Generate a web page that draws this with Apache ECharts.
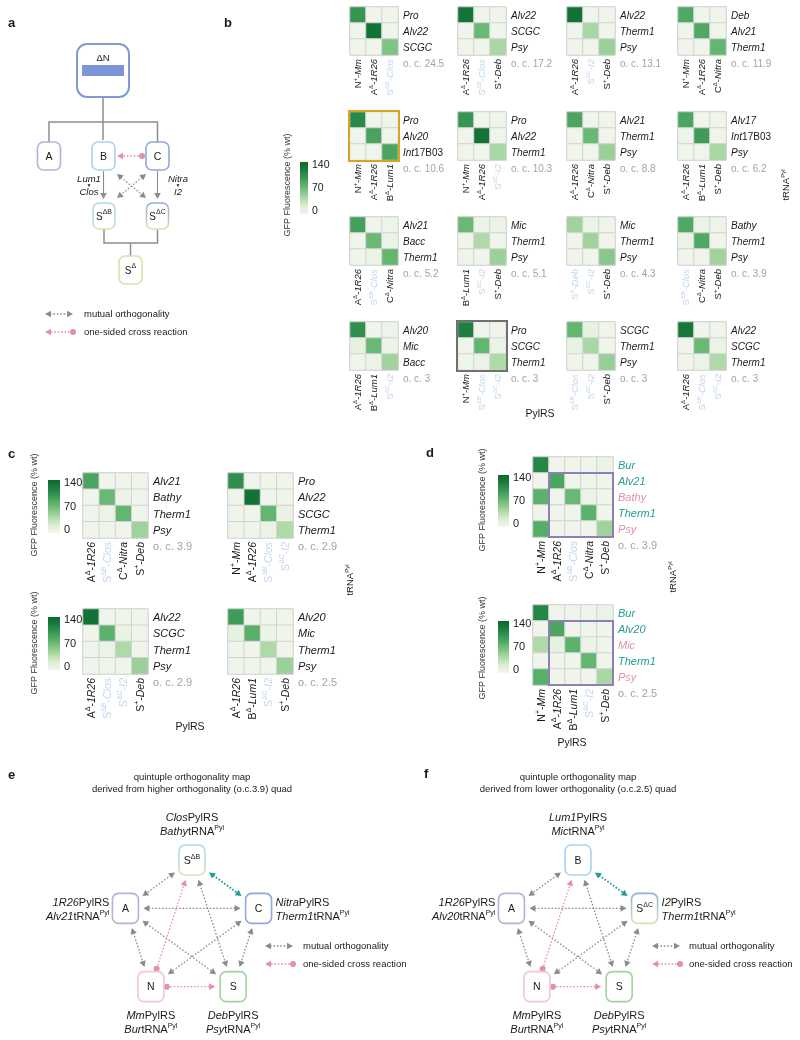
<!DOCTYPE html>
<html><head><meta charset="utf-8">
<script src="https://cdn.jsdelivr.net/npm/echarts@6/dist/echarts.min.js"></script>
<style>html,body{margin:0;padding:0;background:#fff}#c{width:800px;height:1040px}</style>
</head><body><div id="c"></div>
<script>
// ---------------- DATA ----------------
const bRows = [
 ['Pro','Alv22','SCGC'], ['Alv22','SCGC','Psy'], ['Alv22','Therm1','Psy'], ['Deb','Alv21','Therm1'],
 ['Pro','Alv20','Int17B03'], ['Pro','Alv22','Therm1'], ['Alv21','Therm1','Psy'], ['Alv17','Int17B03','Psy'],
 ['Alv21','Bacc','Therm1'], ['Mic','Therm1','Psy'], ['Mic','Therm1','Psy'], ['Bathy','Therm1','Psy'],
 ['Alv20','Mic','Bacc'], ['Pro','SCGC','Therm1'], ['SCGC','Therm1','Psy'], ['Alv22','SCGC','Therm1']
];
const bCols = [
 ['N+-Mm','AΔ-1R26','SΔB-Clos'], ['AΔ-1R26','SΔB-Clos','S+-Deb'], ['AΔ-1R26','SΔC-I2','S+-Deb'], ['N+-Mm','AΔ-1R26','CΔ-Nitra'],
 ['N+-Mm','AΔ-1R26','BΔ-Lum1'], ['N+-Mm','AΔ-1R26','SΔC-I2'], ['AΔ-1R26','CΔ-Nitra','S+-Deb'], ['AΔ-1R26','BΔ-Lum1','S+-Deb'],
 ['AΔ-1R26','SΔB-Clos','CΔ-Nitra'], ['BΔ-Lum1','SΔC-I2','S+-Deb'], ['SΔ-Deb','SΔC-I2','S+-Deb'], ['SΔB-Clos','CΔ-Nitra','S+-Deb'],
 ['AΔ-1R26','BΔ-Lum1','SΔC-I2'], ['N+-Mm','SΔB-Clos','SΔC-I2'], ['SΔB-Clos','SΔC-I2','S+-Deb'], ['AΔ-1R26','SΔB-Clos','SΔC-I2']
];
const bVals = [
 [[100,3,3],[3,130,3],[3,3,62]],
 [[128,3,3],[3,72,3],[3,3,45]],
 [[130,3,3],[3,45,3],[3,3,50]],
 [[85,3,3],[3,85,3],[3,3,75]],
 [[110,3,3],[3,90,3],[3,3,88]],
 [[100,3,3],[3,130,3],[3,3,45]],
 [[88,3,3],[3,72,3],[3,3,50]],
 [[88,3,3],[5,95,3],[3,3,45]],
 [[92,3,5],[3,72,8],[3,8,75]],
 [[72,6,8],[3,42,3],[5,3,50]],
 [[48,8,5],[3,48,3],[3,3,58]],
 [[85,8,5],[8,85,3],[3,3,48]],
 [[105,3,5],[12,72,6],[3,6,48]],
 [[118,3,3],[3,75,8],[5,8,42]],
 [[75,12,3],[10,45,3],[3,3,52]],
 [[125,3,3],[3,72,8],[3,8,42]]
];
const bOC = ['24.5','17.2','13.1','11.9','10.6','10.3','8.8','6.2','5.2','5.1','4.3','3.9','3','3','3','3'];

const cRows = [['Alv21','Bathy','Therm1','Psy'], ['Pro','Alv22','SCGC','Therm1'], ['Alv22','SCGC','Therm1','Psy'], ['Alv20','Mic','Therm1','Psy']];
const cCols = [['AΔ-1R26','SΔB-Clos','CΔ-Nitra','S+-Deb'], ['N+-Mm','AΔ-1R26','SΔB-Clos','SΔC-I2'], ['AΔ-1R26','SΔB-Clos','SΔC-I2','S+-Deb'], ['AΔ-1R26','BΔ-Lum1','SΔC-I2','S+-Deb']];
const cVals = [
 [[88,3,3,3],[3,72,8,3],[3,8,75,3],[3,3,3,48]],
 [[105,3,3,3],[3,130,3,3],[3,3,75,10],[3,3,8,42]],
 [[130,3,3,3],[3,78,10,3],[3,8,42,3],[3,3,3,50]],
 [[95,3,3,3],[12,80,6,3],[3,3,42,3],[3,3,3,50]]
];
const cOC = ['3.9','2.9','2.9','2.5'];

const dRows = [['Bur','Alv21','Bathy','Therm1','Psy'], ['Bur','Alv20','Mic','Therm1','Psy']];
const dRowType = [['t','t','p','t','p'], ['t','t','p','t','p']];
const dCols = [['N+-Mm','AΔ-1R26','SΔB-Clos','CΔ-Nitra','S+-Deb'], ['N+-Mm','AΔ-1R26','BΔ-Lum1','SΔC-I2','S+-Deb']];
const dVals = [
 [[112,3,3,3,8],[3,88,3,3,3],[78,3,72,8,3],[3,3,3,78,3],[82,3,3,3,48]],
 [[112,3,3,3,8],[3,88,3,3,3],[42,12,78,6,3],[3,3,3,75,3],[80,3,3,3,45]]
];
const dOC = ['3.9','2.5'];

const colorTicks = ['140','70','0'];
const eNodes = ['SΔB','A','C','N','S'];
const eLabels = [['Clos','Bathy'],['1R26','Alv21'],['Nitra','Therm1'],['Mm','Bur'],['Deb','Psy']];
const fNodes = ['B','A','SΔC','N','S'];
const fLabels = [['Lum1','Mic'],['1R26','Alv20'],['I2','Therm1'],['Mm','Bur'],['Deb','Psy']];
const pairType = ['p','t','t','t','p'];
// edges: [from, to, kind]  (0 top,1 left,2 right,3 bottom-left,4 bottom-right)
const pentEdges = [[0,1,'g'],[0,2,'teal'],[1,2,'g'],[1,3,'g'],[2,4,'g'],[1,4,'g'],[2,3,'g'],[0,4,'g'],[3,0,'pink'],[3,4,'pink']];

// ---------------- STYLE ----------------
const FONT = '"Liberation Sans", Arial, Helvetica, sans-serif';
const PAL = ['#f3f6f0','#dcefd6','#b3dcab','#83c686','#58b068','#379553','#1b7c3d','#0a6a2e'];
const BLUE_LBL = '#c3d5ee', TEAL = '#1f9d96', PINK = '#e38fae', GREY = '#8c8c8c', OCC = '#a3a3a3';
const COLORS = {k:'#1a1a1a', b:BLUE_LBL, t:TEAL, p:PINK};

function richSet(fs, color){
  return {
    n:{fontSize:fs, color, fontFamily:FONT, lineHeight:fs+2, verticalAlign:'bottom'},
    i:{fontSize:fs, color, fontFamily:FONT, fontStyle:'italic', lineHeight:fs+2, verticalAlign:'bottom'},
    s:{fontSize:Math.round(fs*0.65), color, fontFamily:FONT, lineHeight:Math.round(fs*0.65), padding:[0,0,Math.round(fs*0.55),0], verticalAlign:'bottom'}
  };
}
function richAll(fs){
  const o = {};
  for (const c in COLORS){ const s = richSet(fs, COLORS[c]); for (const k in s) o[k+c] = s[k]; }
  return o;
}
function colLabel(s){
  const m = s.match(/^([A-Z])([^-]*)-(.*)$/);
  const c = (m[1]==='S' && m[2].startsWith('Δ')) ? 'b' : 'k';
  return `{n${c}|${m[1]}}{s${c}|${m[2]}}{n${c}|-}{i${c}|${m[3]}}`;
}
function rowLabel(v, c){
  if (v.startsWith('Int')) return `{i${c}|Int}{n${c}|${v.slice(3)}}`;
  return `{i${c}|${v}}`;
}

const grids=[], xAxes=[], yAxes=[], series=[], gfx=[];
function txt(x,y,text,o={}){
  const el = {type:'text', x, y, z:50, rotation:o.rot||0, style:{text, fill:o.color||'#1a1a1a', fontSize:o.fs||10, fontFamily:FONT,
    fontWeight:o.bold?'bold':'normal', fontStyle:o.italic?'italic':'normal',
    textAlign:o.align||'left', align:o.align||'left', textVerticalAlign:'middle', verticalAlign:'middle'}};
  if (o.rich) el.style.rich = o.rich;
  gfx.push(el);
}

function addHeat(x, y, cell, rows, cols, vals, rowTypes, fsCol, fsRow, oc){
  const gi = grids.length;
  grids.push({left:x, top:y, width:cell*cols.length, height:cell*rows.length, show:true,
    borderColor:'#c9c9c9', borderWidth:1, backgroundColor:'rgba(0,0,0,0)'});
  xAxes.push({type:'category', gridIndex:gi, data:cols, position:'bottom',
    axisLine:{show:false}, axisTick:{show:false}, splitLine:{show:false}, splitArea:{show:false},
    axisLabel:{interval:0, rotate:90, margin:4, formatter:colLabel, rich:richAll(fsCol)}});
  yAxes.push({type:'category', gridIndex:gi, data:rows, inverse:true, position:'right',
    axisLine:{show:false}, axisTick:{show:false}, splitLine:{show:false}, splitArea:{show:false},
    axisLabel:{interval:0, margin:5, formatter:(v,i)=>rowLabel(v, rowTypes ? rowTypes[i] : 'k'), rich:richAll(fsRow)}});
  const data=[];
  vals.forEach((r,ri)=>r.forEach((v,ci)=>data.push([ci,ri,v])));
  series.push({type:'heatmap', xAxisIndex:gi, yAxisIndex:gi, data, silent:true,
    itemStyle:{borderColor:'#d3d3d3', borderWidth:1}, emphasis:{disabled:true}, label:{show:false}});
  txt(x+cell*cols.length+5, y+cell*rows.length+9, 'o. c. '+oc, {color:OCC, fs:fsRow});
  return {x, y, w:cell*cols.length, h:cell*rows.length, cell};
}

function colorbar(x,y,w,h,fs, titleX, titleCY){
  const stops = PAL.map((c,i)=>({offset:i/(PAL.length-1), color:PAL[PAL.length-1-i]}));
  gfx.push({type:'rect', z:50, shape:{x,y,width:w,height:h}, style:{fill:{type:'linear',x:0,y:0,x2:0,y2:1,colorStops:stops}, stroke:null}});
  colorTicks.forEach((t,i)=>txt(x+w+4, y+3+i*(h-6)/2, t, {fs}));
  txt(titleX, titleCY, 'GFP Fluorescence (% wt)', {fs:9, align:'center', rot:Math.PI/2, color:'#333'});
}
function frame(g, color, lw, x0, y0, x1, y1){
  gfx.push({type:'rect', z:60, shape:{x:x0, y:y0, width:x1-x0, height:y1-y0}, style:{fill:null, stroke:color, lineWidth:lw}});
}
const supRich = (fs,color)=>{ const s = richSet(fs,color); return {n:s.n, i:s.i, s:s.s}; };

// ---------------- PANEL B ----------------
const B_X = [350, 458, 567, 678], B_Y = [7, 112, 217, 322], B_CELL = 16;
const bBoxes = bRows.map((rows,k)=>addHeat(B_X[k%4], B_Y[Math.floor(k/4)], B_CELL, rows, bCols[k], bVals[k], null, 9.5, 10, bOC[k]));
frame(null, '#d9a323', 2, bBoxes[4].x-1, bBoxes[4].y-1, bBoxes[4].x+bBoxes[4].w+1, bBoxes[4].y+bBoxes[4].h+1);
frame(null, '#707070', 2, bBoxes[13].x-1, bBoxes[13].y-1, bBoxes[13].x+bBoxes[13].w+1, bBoxes[13].y+bBoxes[13].h+1);
colorbar(300, 162, 8, 52, 10.5, 288, 185);
txt(786, 185, '{n|tRNA}{s|Pyl}', {rot:Math.PI/2, align:'center', rich:supRich(9.5,'#1a1a1a')});
txt(540, 414, 'PylRS', {fs:10.5, align:'center'});

// ---------------- PANEL C ----------------
const C_POS = [[83,473],[228,473],[83,609],[228,609]];
cRows.forEach((rows,k)=>addHeat(C_POS[k][0], C_POS[k][1], 16.25, rows, cCols[k], cVals[k], null, 10.5, 11, cOC[k]));
colorbar(48, 480, 12, 53, 11, 35, 505);
colorbar(48, 617, 12, 53, 11, 35, 643);
txt(350, 580, '{n|tRNA}{s|Pyl}', {rot:Math.PI/2, align:'center', rich:supRich(9.5,'#1a1a1a')});
txt(190, 727, 'PylRS', {fs:10.5, align:'center'});

// ---------------- PANEL D ----------------
const D_POS = [[533,457],[533,605]];
const dBoxes = dRows.map((rows,k)=>addHeat(D_POS[k][0], D_POS[k][1], 16, rows, dCols[k], dVals[k], dRowType[k], 10.5, 11, dOC[k]));
dBoxes.forEach(b=>frame(null, '#8e80b6', 2, b.x+b.cell, b.y+b.cell, b.x+b.w, b.y+b.h));
colorbar(498, 475, 11, 52, 11, 483, 500);
colorbar(498, 621, 11, 52, 11, 483, 648);
txt(673, 577, '{n|tRNA}{s|Pyl}', {rot:Math.PI/2, align:'center', rich:supRich(9.5,'#1a1a1a')});
txt(572, 743, 'PylRS', {fs:10.5, align:'center'});

// ---------------- DIAGRAM HELPERS ----------------
function head(tx,ty,ux,uy,color){ // tip at (tx,ty), pointing along (ux,uy)
  const L=6, W=3.3, bx=tx-ux*L, by=ty-uy*L;
  gfx.push({type:'polygon', z:40, shape:{points:[[tx,ty],[bx-uy*W,by+ux*W],[bx+uy*W,by-ux*W]]}, style:{fill:color}});
}
function arrow(x1,y1,x2,y2,color,a1,a2,lw,dash){
  const dx=x2-x1, dy=y2-y1, L=Math.hypot(dx,dy), ux=dx/L, uy=dy/L;
  let sx=x1, sy=y1, ex=x2, ey=y2;
  if (a1==='arrow'){ head(x1,y1,-ux,-uy,color); sx+=ux*5; sy+=uy*5; }
  if (a1==='dot'){ gfx.push({type:'circle', z:40, shape:{cx:x1,cy:y1,r:3}, style:{fill:color}}); }
  if (a2==='arrow'){ head(x2,y2,ux,uy,color); ex-=ux*5; ey-=uy*5; }
  if (a2==='dot'){ gfx.push({type:'circle', z:40, shape:{cx:x2,cy:y2,r:3}, style:{fill:color}}); }
  gfx.push({type:'line', z:39, shape:{x1:sx,y1:sy,x2:ex,y2:ey}, style:{stroke:color, lineWidth:lw||1.4, lineDash:dash===undefined?[1.6,1.8]:dash}});
}
const NODE_COL = {
  'A':'#b8b1dd', 'B':'#a9d3f1', 'C':'#8fa9dc', 'N':'#f5c6d2', 'S':'#9fd3a0', 'SΔ':'#d5e3a8',
  'SΔB':{type:'linear',x:0,y:0,x2:0,y2:1,colorStops:[{offset:0,color:'#a9d6f3'},{offset:1,color:'#d6e5ad'}]},
  'SΔC':{type:'linear',x:0,y:0,x2:0,y2:1,colorStops:[{offset:0,color:'#94aade'},{offset:1,color:'#d6e5ad'}]}
};
function node(cx,cy,w,h,name,fs){
  gfx.push({type:'rect', z:45, shape:{x:cx-w/2, y:cy-h/2, width:w, height:h, r:6}, style:{fill:'#fff', stroke:NODE_COL[name], lineWidth:1.6}});
  const t = name.length>1 ? `{n|${name[0]}}{s|${name.slice(1)}}` : `{n|${name}}`;
  txt(cx, cy, t, {align:'center', rich:supRich(fs,'#1a1a1a')});
}
function boxTrim(p, q, hw, hh, gap){
  const dx=q[0]-p[0], dy=q[1]-p[1], L=Math.hypot(dx,dy), ux=dx/L, uy=dy/L;
  const t = Math.min(Math.abs(ux)>1e-6?hw/Math.abs(ux):1e9, Math.abs(uy)>1e-6?hh/Math.abs(uy):1e9) + gap;
  return [p[0]+ux*t, p[1]+uy*t];
}

// ---------------- PANEL A ----------------
const treeSt = {stroke:'#8f8f8f', lineWidth:1.5, fill:null};
gfx.push({type:'rect', z:45, shape:{x:77,y:44,width:52,height:53,r:10}, style:{fill:'#fff', stroke:'#7e9bd8', lineWidth:2}});
txt(103, 58, 'ΔN', {fs:9.5, align:'center'});
gfx.push({type:'rect', z:46, shape:{x:82,y:65,width:42,height:11}, style:{fill:'#7d95d8'}});
gfx.push({type:'polyline', z:30, shape:{points:[[103,97],[103,140]]}, style:treeSt});
gfx.push({type:'polyline', z:30, shape:{points:[[49,142],[49,122],[157.5,122],[157.5,142]]}, style:treeSt});
node(49,156,23,28,'A',10.5); node(103.5,156,23,28,'B',10.5); node(157.5,156,23,28,'C',10.5);
arrow(142,156,117,156,PINK,'dot','arrow',1.3);
arrow(103.5,171,103.5,199,GREY,null,'arrow',1.1,null);
arrow(157.5,171,157.5,199,GREY,null,'arrow',1.1,null);
txt(89,179,'Lum1',{fs:9.5,italic:true,align:'center'});
txt(89,185.5,'▼',{fs:5,align:'center'});
txt(89,192,'Clos',{fs:9.5,italic:true,align:'center'});
txt(178,179,'Nitra',{fs:9.5,italic:true,align:'center'});
txt(178,185.5,'▼',{fs:5,align:'center'});
txt(178,192,'I2',{fs:9.5,italic:true,align:'center'});
arrow(117,174,146,198,GREY,'arrow','arrow',1.2);
arrow(146,174,117,198,GREY,'arrow','arrow',1.2);
node(104,216,22,26,'SΔB',10); node(157.5,216,22,26,'SΔC',10);
gfx.push({type:'polyline', z:30, shape:{points:[[104,229],[104,243],[157.5,243],[157.5,229]]}, style:treeSt});
gfx.push({type:'polyline', z:30, shape:{points:[[130.5,243],[130.5,256]]}, style:treeSt});
node(130.5,270,23,28,'SΔ',10);
function legend(x,y,txtX){
  arrow(x,y,x+28,y,GREY,'arrow','arrow',1.3);
  txt(txtX,y,'mutual orthogonality',{fs:9.5});
  arrow(x+28,y+18,x,y+18,PINK,'dot','arrow',1.3);
  txt(txtX,y+18,'one-sided cross reaction',{fs:9.5});
}
legend(45,314,84);

// ---------------- PANELS E / F ----------------
function pentagon(cx, cy, names, labels, types, title2){
  txt(cx, 777, 'quintuple orthogonality map', {fs:9.5, align:'center'});
  txt(cx, 789, title2, {fs:9.5, align:'center'});
  const R = 70, angs = [-90, 198, -18, 126, 54];
  const P = angs.map(a=>[cx+R*Math.cos(a*Math.PI/180), cy+R*Math.sin(a*Math.PI/180)]);
  const HW=13, HH=15;
  pentEdges.forEach(([a,b,k])=>{
    const p = boxTrim(P[a],P[b],HW,HH,k==='pink'?3:5), q = boxTrim(P[b],P[a],HW,HH,5);
    if (k==='pink') arrow(p[0],p[1],q[0],q[1],PINK,'dot','arrow',1.3);
    else if (k==='teal') arrow(p[0],p[1],q[0],q[1],TEAL,'arrow','arrow',1.8);
    else arrow(p[0],p[1],q[0],q[1],GREY,'arrow','arrow',1.3);
  });
  names.forEach((n,i)=>node(P[i][0],P[i][1],26,30,n,10.5));
  const lab = (i, x, y, align)=>{
    const r = supRich(11, COLORS[types[i]]);
    txt(x, y, `{i|${labels[i][0]}}{n|PylRS}`, {align, rich:r});
    txt(x, y+14, `{i|${labels[i][1]}}{n|tRNA}{s|Pyl}`, {align, rich:r});
  };
  lab(0, P[0][0], P[0][1]-43, 'center');
  lab(1, P[1][0]-16, P[1][1]-6, 'right');
  lab(2, P[2][0]+17, P[2][1]-6, 'left');
  lab(3, P[3][0], P[3][1]+28, 'center');
  lab(4, P[4][0], P[4][1]+28, 'center');
}
pentagon(192, 930, eNodes, eLabels, pairType, 'derived from higher orthogonality (o.c.3.9) quad');
pentagon(578, 930, fNodes, fLabels, pairType, 'derived from lower orthogonality (o.c.2.5) quad');
legend(265, 946, 303);
legend(652, 946, 689);

// panel letters
[['a',8,23],['b',224,23],['c',8,454],['d',426,453],['e',8,775],['f',424,774]].forEach(([t,x,y])=>txt(x,y,t,{fs:13,bold:true}));

// ---------------- CHART ----------------
const chart = echarts.init(document.getElementById('c'), null, {renderer:'canvas'});
chart.setOption({
  animation:false,
  backgroundColor:'#ffffff',
  textStyle:{fontFamily:FONT},
  grid:grids, xAxis:xAxes, yAxis:yAxes, series,
  visualMap:[{type:'continuous', show:false, min:0, max:140, dimension:2, seriesIndex:series.map((s,i)=>i), inRange:{color:PAL}}],
  graphic:{elements:gfx}
});
</script></body></html>
